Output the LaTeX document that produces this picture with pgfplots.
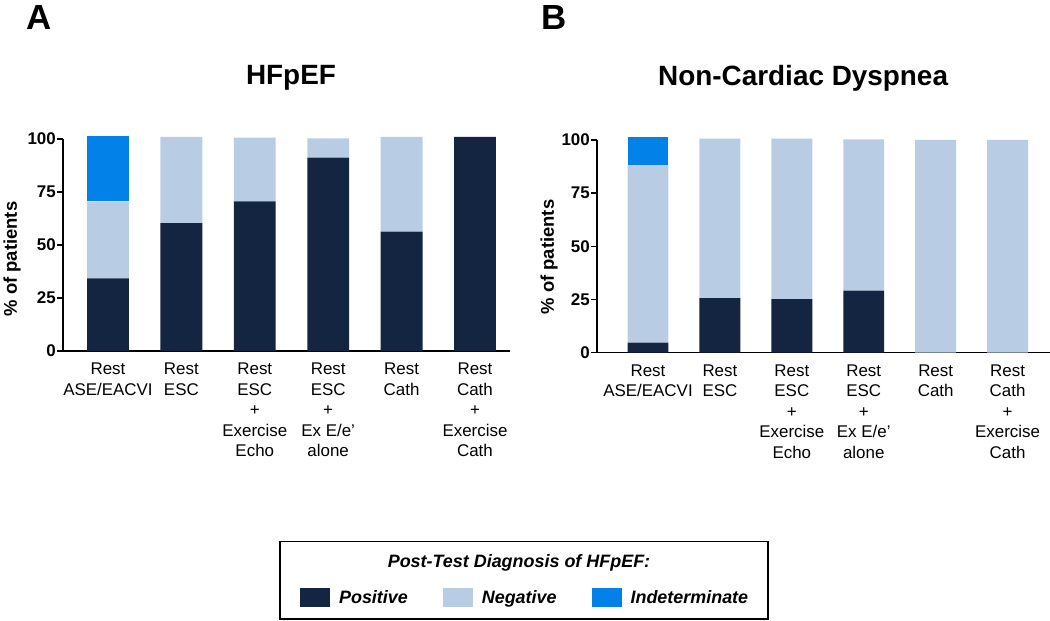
\documentclass[border=0pt]{standalone}
\usepackage{fontspec}
\setmainfont{Liberation Sans}
\usepackage{pgfplots}
\pgfplotsset{compat=1.18}
\definecolor{pos}{RGB}{19,37,64}
\definecolor{neg}{RGB}{184,204,228}
\definecolor{ind}{RGB}{2,130,232}

\pgfplotsset{
 mybar/.style={
  scale only axis, ybar stacked, bar width=0.57, ymin=0, ymax=100, ytick={0,25,50,75,100},
  clip=false, axis x line*=bottom, axis y line*=left, axis line style={line width=1.4bp,-},
  xtick=data, xtick style={draw=none}, ytick style={line width=1.4bp, black}, tick align=outside, major tick length=6bp,
  /pgf/number format/assume math mode=true,
  yticklabel style={font=\bfseries\fontsize{17}{18}\selectfont, inner sep=0pt, xshift=-1bp},
  xticklabel style={font=\fontsize{17}{20.5}\selectfont, align=center, inner sep=0pt, yshift=-6bp},
  xticklabels={{Rest\\ASE/EACVI}, {Rest\\ESC}, {Rest\\ESC\\+\\Exercise\\Echo}, {Rest\\ESC\\+\\Ex E/e’\\alone}, {Rest\\Cath}, {Rest\\Cath\\+\\Exercise\\Cath}},
  ylabel={\% of patients}, ylabel style={font=\bfseries\fontsize{18.5}{20}\selectfont, anchor=center},
  title style={font=\bfseries\fontsize{28}{30}\selectfont, anchor=center},
  legend image code/.code={\fill[##1] (0bp,-9.5bp) rectangle (30bp,9.5bp);},
  every axis plot/.append style={draw=none},
 }
}

\begin{document}
\begin{tikzpicture}
\path[use as bounding box] (0,0) rectangle (1050bp,621bp);

\begin{axis}[mybar, at={(63bp,270bp)}, anchor=south west, width=447bp, height=212bp,
  xmin=-0.613, xmax=5.477,
  ylabel style={at={(axis description cs:-0.114,0.434)}},
  title={HFpEF}, title style={at={(axis description cs:0.51,1.259)}},
  legend columns=3,
  legend style={at={(axis description cs:0.530,-1.164)}, anchor=west, draw=none, fill=none, inner sep=0pt,
    font=\bfseries\itshape\fontsize{18}{20}\selectfont,
    /tikz/every odd column/.append style={column sep=7bp},
    /tikz/every even column/.append style={column sep=33bp}},
]
\addplot[fill=pos] coordinates {(0,34.3) (1,60.3) (2,70.6) (3,91.2) (4,56.3) (5,101)};
\addplot[fill=neg] coordinates {(0,36.3) (1,40.7) (2,30.0) (3,9.1) (4,44.7) (5,0)};
\addplot[fill=ind] coordinates {(0,31.0) (1,0) (2,0) (3,0) (4,0) (5,0)};
\legend{Positive,Negative,Indeterminate}
\end{axis}

\begin{axis}[mybar, at={(597bp,268.3bp)}, anchor=south west, width=453bp, height=212.7bp,
  xmin=-0.709, xmax=5.59,
  ylabel style={at={(axis description cs:-0.106,0.45)}},
  title={Non-Cardiac Dyspnea}, title style={at={(axis description cs:0.455,1.263)}},
]
\addplot[fill=pos] coordinates {(0,4.7) (1,25.6) (2,25.2) (3,29.2) (4,0) (5,0)};
\addplot[fill=neg] coordinates {(0,83.5) (1,75.1) (2,75.4) (3,71.1) (4,100) (5,100)};
\addplot[fill=ind] coordinates {(0,13.3) (1,0) (2,0) (3,0) (4,0) (5,0)};
\end{axis}

\node[font=\bfseries\fontsize{35}{36}\selectfont, anchor=base west, inner sep=0pt] at (26bp,591bp) {A};
\node[font=\bfseries\fontsize{35}{36}\selectfont, anchor=base west, inner sep=0pt] at (541bp,591bp) {B};

\draw[line width=1.5bp] (280bp,2bp) rectangle (768bp,79.3bp);
\node[font=\bfseries\itshape\fontsize{18}{20}\selectfont] at (519bp,58bp) {Post-Test Diagnosis of HFpEF:};
\end{tikzpicture}
\end{document}
